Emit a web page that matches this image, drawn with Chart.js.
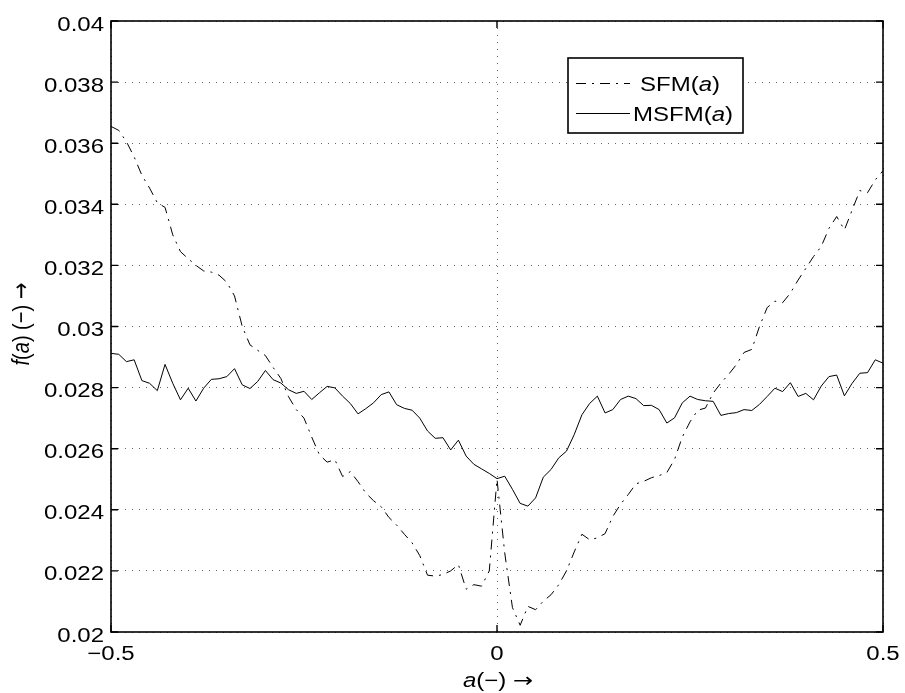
<!DOCTYPE html>
<html>
<head>
<meta charset="utf-8">
<script src="https://cdn.jsdelivr.net/npm/chart.js@4.4.1/dist/chart.umd.min.js"></script>
<style>
  html, body { margin: 0; padding: 0; background: #fff; }
  #chart { display: block; }
</style>
</head>
<body>
<canvas id="chart" width="905" height="693"></canvas>
<script>
// a values (step 0.01)
const aValues = [
  -0.50, -0.49, -0.48, -0.47, -0.46, -0.45, -0.44, -0.43, -0.42, -0.41,
  -0.40, -0.39, -0.38, -0.37, -0.36, -0.35, -0.34, -0.33, -0.32, -0.31,
  -0.30, -0.29, -0.28, -0.27, -0.26, -0.25, -0.24, -0.23, -0.22, -0.21,
  -0.20, -0.19, -0.18, -0.17, -0.16, -0.15, -0.14, -0.13, -0.12, -0.11,
  -0.10, -0.09, -0.08, -0.07, -0.06, -0.05, -0.04, -0.03, -0.02, -0.01,
  0.00, 0.01, 0.02, 0.03, 0.04, 0.05, 0.06, 0.07, 0.08, 0.09,
  0.10, 0.11, 0.12, 0.13, 0.14, 0.15, 0.16, 0.17, 0.18, 0.19,
  0.20, 0.21, 0.22, 0.23, 0.24, 0.25, 0.26, 0.27, 0.28, 0.29,
  0.30, 0.31, 0.32, 0.33, 0.34, 0.35, 0.36, 0.37, 0.38, 0.39,
  0.40, 0.41, 0.42, 0.43, 0.44, 0.45, 0.46, 0.47, 0.48, 0.49,
  0.50
];

// SFM(a), dash-dot
const sfmValues = [
  0.03655, 0.03642, 0.03605, 0.03555, 0.03495, 0.03453, 0.03405, 0.03390, 0.03300, 0.03245,
  0.03222, 0.03200, 0.03182, 0.03178, 0.03168, 0.03145, 0.03100, 0.03000, 0.02940, 0.02922,
  0.02905, 0.02866, 0.02830, 0.02770, 0.02728, 0.02700, 0.02638, 0.02580, 0.02556, 0.02564,
  0.02509, 0.02525, 0.02492, 0.02455, 0.02430, 0.02410, 0.02375, 0.02350, 0.02320, 0.02292,
  0.02250, 0.02186, 0.02183, 0.02188, 0.02200, 0.02221, 0.02140, 0.02155, 0.02150, 0.02200,
  0.02500, 0.02259, 0.02080, 0.02022, 0.02084, 0.02073, 0.02101, 0.02122, 0.02155, 0.02200,
  0.02262, 0.02320, 0.02302, 0.02308, 0.02322, 0.02378, 0.02418, 0.02450, 0.02485, 0.02493,
  0.02505, 0.02512, 0.02522, 0.02565, 0.02638, 0.02688, 0.02726, 0.02733, 0.02782, 0.02815,
  0.02843, 0.02875, 0.02915, 0.02925, 0.03000, 0.03062, 0.03083, 0.03078, 0.03109, 0.03152,
  0.03190, 0.03229, 0.03262, 0.03321, 0.03360, 0.03316, 0.03381, 0.03445, 0.03438, 0.03480,
  0.03510
];

// MSFM(a), solid
const msfmValues = [
  0.02912, 0.02909, 0.02885, 0.02891, 0.02823, 0.02814, 0.02790, 0.02876, 0.02814, 0.02760,
  0.02798, 0.02756, 0.02798, 0.02827, 0.02829, 0.02836, 0.02862, 0.02809, 0.02797, 0.02820,
  0.02856, 0.02826, 0.02815, 0.02793, 0.02781, 0.02788, 0.02761, 0.02783, 0.02804, 0.02799,
  0.02772, 0.02748, 0.02714, 0.02731, 0.02750, 0.02777, 0.02786, 0.02744, 0.02732, 0.02726,
  0.02700, 0.02658, 0.02634, 0.02636, 0.02596, 0.02628, 0.02576, 0.02549, 0.02534, 0.02519,
  0.02502, 0.02510, 0.02467, 0.02421, 0.02412, 0.02439, 0.02507, 0.02532, 0.02570, 0.02592,
  0.02646, 0.02711, 0.02748, 0.02772, 0.02717, 0.02728, 0.02761, 0.02772, 0.02764, 0.02741,
  0.02742, 0.02728, 0.02684, 0.02701, 0.02750, 0.02772, 0.02761, 0.02757, 0.02755, 0.02709,
  0.02715, 0.02718, 0.02728, 0.02725, 0.02745, 0.02771, 0.02798, 0.02787, 0.02816, 0.02771,
  0.02781, 0.02760, 0.02805, 0.02836, 0.02841, 0.02773, 0.02814, 0.02847, 0.02849, 0.02891,
  0.02880
];

const xTickLabels = ['\u22120.5', '0', '0.5'];
const yTickLabels = ['0.02', '0.022', '0.024', '0.026', '0.028', '0.03',
                     '0.032', '0.034', '0.036', '0.038', '0.04'];

const FONT = '"Liberation Sans", Arial, Helvetica, sans-serif';
const ARROW_FONT = '"DejaVu Sans", sans-serif';
const FONT_SIZE = 20;
const SX = 1.2;          // text in the original is a bit wide
const SFM_DASH = [10, 6, 2, 6];

// draws text parts (some italic) one after another
function partFont(p) {
  return (p.it ? 'italic ' : '') + FONT_SIZE + 'px ' + (p.arrow ? ARROW_FONT : FONT);
}
function drawParts(ctx, parts, align) {
  let total = 0;
  parts.forEach(p => {
    ctx.font = partFont(p);
    p.w = ctx.measureText(p.t).width;
    total += p.w;
  });
  let x = align === 'center' ? -total / 2 : (align === 'right' ? -total : 0);
  ctx.textAlign = 'left';
  parts.forEach(p => {
    ctx.font = partFont(p);
    ctx.fillText(p.t, x, 0);
    x += p.w;
  });
}

const matlabFrame = {
  id: 'matlabFrame',
  afterDraw(chart) {
    const { ctx, chartArea: ca, scales: { x, y } } = chart;
    ctx.save();

    // frame box
    ctx.strokeStyle = '#000';
    ctx.lineWidth = 1.6;
    ctx.strokeRect(ca.left, ca.top, ca.right - ca.left, ca.bottom - ca.top);

    // inward ticks
    ctx.lineWidth = 1.4;
    ctx.beginPath();
    y.ticks.forEach(t => {
      const py = y.getPixelForValue(t.value);
      ctx.moveTo(ca.left, py); ctx.lineTo(ca.left + 7, py);
      ctx.moveTo(ca.right, py); ctx.lineTo(ca.right - 7, py);
    });
    x.ticks.forEach(t => {
      const px = x.getPixelForValue(t.value);
      ctx.moveTo(px, ca.bottom); ctx.lineTo(px, ca.bottom - 7);
      ctx.moveTo(px, ca.top); ctx.lineTo(px, ca.top + 7);
    });
    ctx.stroke();

    // tick labels
    ctx.fillStyle = '#000';
    ctx.textBaseline = 'alphabetic';
    y.ticks.forEach((t, i) => {
      const py = y.getPixelForValue(t.value);
      ctx.save();
      ctx.translate(ca.left - 7, py + 9.5);
      ctx.scale(SX, 1);
      drawParts(ctx, [{ t: yTickLabels[i] }], 'right');
      ctx.restore();
    });
    x.ticks.forEach((t, i) => {
      const px = x.getPixelForValue(t.value);
      ctx.save();
      ctx.translate(px, ca.bottom + 28);
      ctx.scale(SX, 1);
      drawParts(ctx, [{ t: xTickLabels[i] }], 'center');
      ctx.restore();
    });

    // axis titles
    ctx.save();
    ctx.translate(498, 687);
    ctx.scale(SX, 1);
    drawParts(ctx, [{ t: 'a', it: true }, { t: '(\u2212) ' }, { t: '\u2192', arrow: true }], 'center');
    ctx.restore();

    ctx.save();
    ctx.translate(29, 324);
    ctx.rotate(-Math.PI / 2);
    ctx.scale(1, SX);
    drawParts(ctx, [{ t: 'f', it: true }, { t: '(' }, { t: 'a', it: true }, { t: ') (\u2212) ' },
                    { t: '\u2192', arrow: true }], 'center');
    ctx.restore();

    // legend
    const lx = 568, ly = 58, lw = 175, lh = 75;
    ctx.fillStyle = '#fff';
    ctx.fillRect(lx, ly, lw, lh);
    ctx.strokeStyle = '#000';
    ctx.lineWidth = 1.6;
    ctx.strokeRect(lx, ly, lw, lh);

    ctx.lineWidth = 1;
    ctx.setLineDash(SFM_DASH);
    ctx.beginPath(); ctx.moveTo(576, 83.5); ctx.lineTo(630, 83.5); ctx.stroke();
    ctx.setLineDash([]);
    ctx.beginPath(); ctx.moveTo(576, 113.5); ctx.lineTo(630, 113.5); ctx.stroke();

    ctx.fillStyle = '#000';
    ctx.save();
    ctx.translate(640, 91);
    ctx.scale(SX, 1);
    drawParts(ctx, [{ t: 'SFM(' }, { t: 'a', it: true }, { t: ')' }], 'left');
    ctx.restore();
    ctx.save();
    ctx.translate(633, 121);
    ctx.scale(SX, 1);
    drawParts(ctx, [{ t: 'MSFM(' }, { t: 'a', it: true }, { t: ')' }], 'left');
    ctx.restore();

    ctx.restore();
  }
};

const gridColor = 'rgba(0, 0, 0, 0.6)';

new Chart(document.getElementById('chart').getContext('2d'), {
  type: 'line',
  data: {
    labels: aValues,
    datasets: [{
      label: 'SFM(a)',
      data: sfmValues,
      borderColor: '#000',
      borderWidth: 1,
      borderDash: SFM_DASH,
      pointRadius: 0,
      tension: 0,
      fill: false
    }, {
      label: 'MSFM(a)',
      data: msfmValues,
      borderColor: '#000',
      borderWidth: 1,
      pointRadius: 0,
      tension: 0,
      fill: false
    }]
  },
  options: {
    responsive: false,
    animation: false,
    layout: { padding: { left: 0, right: 22, top: 21, bottom: 0 } },
    plugins: {
      legend: { display: false },
      tooltip: { enabled: false }
    },
    scales: {
      x: {
        type: 'linear',
        min: -0.5,
        max: 0.5,
        ticks: { display: false, stepSize: 0.5 },
        grid: { color: gridColor, lineWidth: 1, drawTicks: false },
        border: { display: false, dash: [1, 6] },
        afterFit: s => { s.height = 61; }
      },
      y: {
        type: 'linear',
        min: 0.02,
        max: 0.04,
        ticks: { display: false, stepSize: 0.002 },
        grid: { color: gridColor, lineWidth: 1, drawTicks: false },
        border: { display: false, dash: [1, 6] },
        afterFit: s => { s.width = 111; }
      }
    }
  },
  plugins: [matlabFrame]
});
</script>
</body>
</html>
